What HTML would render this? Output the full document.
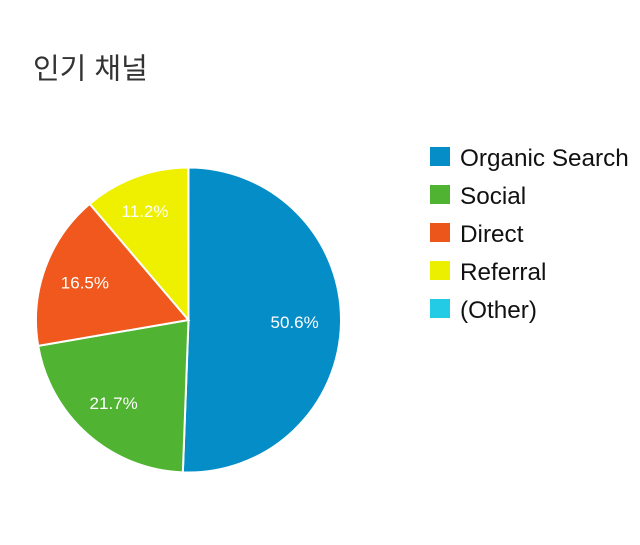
<!DOCTYPE html>
<html>
<head>
<meta charset="utf-8">
<style>
html,body{margin:0;padding:0;background:#fff;width:640px;height:545px;overflow:hidden}
svg{display:block}
</style>
</head>
<body>
<svg id="chart" width="640" height="545" viewBox="0 0 640 545" xmlns="http://www.w3.org/2000/svg">
  <text x="33" y="78.5" font-family="'Liberation Sans','Noto Sans CJK KR',sans-serif" font-size="29" fill="#333333">인기 채널</text>
  <g id="slices"></g>
  <g id="labels"></g>
  <g id="legend"></g>
</svg>
<script>
const categories = ['Organic Search', 'Social', 'Direct', 'Referral', '(Other)'];
const shares = [50.6, 21.7, 16.5, 11.2, 0.02];
const colors = ['#058dc7', '#50b432', '#ed561b', '#edef00', '#24cbe5'];
const sliceColors = ['#058dc7', '#50b432', '#f0581d', '#eff000', '#24cbe5'];

const NS = 'http://www.w3.org/2000/svg';
const cx = 188.5, cy = 320, radius = 152.5;
const total = shares.reduce(function (a, b) { return a + b; }, 0);

function angleOf(cum) { return cum / total * 2 * Math.PI; }
function px(a, r) { return cx + r * Math.sin(a); }
function py(a, r) { return cy - r * Math.cos(a); }
function labelRadius(a) {
  const c = Math.cos(a);
  return 106 + (c > 0 ? 11 : 6) * Math.abs(c);
}
function labelShiftX(a) {
  const c = Math.cos(a);
  return Math.sin(a) < 0 ? -3.7 * c * c : 0;
}

const slicesG = document.getElementById('slices');
const labelsG = document.getElementById('labels');
const legendG = document.getElementById('legend');

let cum = 0;
shares.forEach(function (v, i) {
  const a0 = angleOf(cum);
  const a1 = angleOf(cum + v);
  const mid = (a0 + a1) / 2;
  cum += v;

  const path = document.createElementNS(NS, 'path');
  const large = (a1 - a0) > Math.PI ? 1 : 0;
  path.setAttribute('d', 'M' + cx + ' ' + cy + 'L' + px(a0, radius) + ' ' + py(a0, radius) +
    'A' + radius + ' ' + radius + ' 0 ' + large + ' 1 ' + px(a1, radius) + ' ' + py(a1, radius) + 'Z');
  path.setAttribute('fill', sliceColors[i]);
  path.setAttribute('stroke', '#ffffff');
  path.setAttribute('stroke-width', '2');
  
  
  slicesG.appendChild(path);

  if (v / total >= 0.05) {
    const t = document.createElementNS(NS, 'text');
    const lr = labelRadius(mid);
    t.setAttribute('x', px(mid, lr) + labelShiftX(mid));
    t.setAttribute('y', py(mid, lr) + 6);
    t.setAttribute('text-anchor', 'middle');
    t.setAttribute('font-family', "'Liberation Sans',sans-serif");
    t.setAttribute('font-size', '17');
    t.setAttribute('fill', '#ffffff');
    
    
    t.textContent = v.toFixed(1) + '%';
    labelsG.appendChild(t);
  }

  const box = document.createElementNS(NS, 'rect');
  box.setAttribute('x', 430);
  box.setAttribute('y', 147 + i * 38);
  box.setAttribute('width', 20);
  box.setAttribute('height', 19);
  box.setAttribute('fill', colors[i]);
  
  
  legendG.appendChild(box);

  const lt = document.createElementNS(NS, 'text');
  lt.setAttribute('x', 460);
  lt.setAttribute('y', 166 + i * 38);
  lt.setAttribute('font-family', "'Liberation Sans',sans-serif");
  lt.setAttribute('font-size', '24.3');
  lt.setAttribute('fill', '#111111');
  
  
  lt.textContent = categories[i];
  legendG.appendChild(lt);
});
</script>
</body>
</html>
